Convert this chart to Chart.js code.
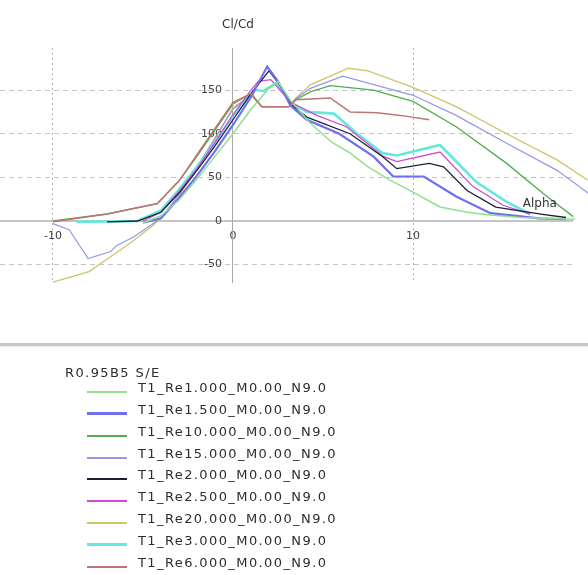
<!DOCTYPE html>
<html>
<head>
<meta charset="utf-8">
<script src="https://cdn.jsdelivr.net/npm/chart.js@4.4.1/dist/chart.umd.min.js"></script>
<style>
  html, body { margin: 0; padding: 0; background: #ffffff; }
  #wrap { position: relative; width: 588px; height: 575px; overflow: hidden; background: #ffffff; }
  #plot { position: absolute; left: 0; top: 0; }
  #sep { position: absolute; left: 0; top: 343px; width: 588px; height: 3px; background: #c6c6c6; box-shadow: 0 1px 2px #e6e6e6; }
  #legend { position: absolute; left: 0; top: 0; width: 588px; height: 575px;
            font-family: "DejaVu Sans", sans-serif; font-size: 13px; letter-spacing: 1.4px; color: #2c2c2c; }
  .lg-text { position: absolute; height: 16px; line-height: 16px; white-space: nowrap; }
  .lg-swatch { position: absolute; width: 40px; }
</style>
</head>
<body>
<div id="wrap">
  <canvas id="plot" width="588" height="345"></canvas>
  <div id="sep"></div>
  <div id="legend"></div>
</div>
<script>
// Polar family name and axis titles
const polarTitle = "R0.95B5 S/E";
const xTitle = "Alpha";
const yTitle = "Cl/Cd";

// Tick values shown on each axis
const xTickValues = [-10, 0, 10];
const yTickValues = [-50, 0, 50, 100, 150];

// Polar names, in legend order
const seriesNames = [
  "T1_Re1.000_M0.00_N9.0",
  "T1_Re1.500_M0.00_N9.0",
  "T1_Re10.000_M0.00_N9.0",
  "T1_Re15.000_M0.00_N9.0",
  "T1_Re2.000_M0.00_N9.0",
  "T1_Re2.500_M0.00_N9.0",
  "T1_Re20.000_M0.00_N9.0",
  "T1_Re3.000_M0.00_N9.0",
  "T1_Re6.000_M0.00_N9.0"
];

// Angle of attack (deg) and Cl/Cd for each polar
const alphaRe1 = [-5, -4, -3, -2, -1, 0, 1, 2, 2.5, 3.2, 4.3, 5.5, 6.5, 7.5, 8.7, 10, 11.5, 13, 14.3, 16, 19];
const clcdRe1  = [-2, 6, 24, 48, 74, 100, 128, 152, 160, 138, 112, 90, 78, 62, 47, 33, 16, 10, 7, 4, 2];

const alphaRe1_5 = [-5, -4, -3, -2, -1, 0, 1, 1.9, 2.5, 3.2, 4.1, 5.9, 7.8, 8.9, 10.6, 12.4, 14.3, 17, 18.5];
const clcdRe1_5  = [-2, 3, 26, 52, 80, 110, 142, 177, 160, 132, 116, 100, 74, 51, 51, 28, 9, 3, 2];

const alphaRe10 = [-10, -7, -4.2, -3, -2, -1, 0, 1, 1.6, 3.1, 3.5, 4.3, 5.4, 7.8, 10, 12.4, 15.2, 17.2, 18.9, 19.7];
const clcdRe10  = [0, 8, 20, 46, 74, 104, 134, 146, 131, 131, 139, 148, 155, 150, 137, 108, 66, 32, 5, 3];

const alphaRe15 = [-10, -9.1, -8.05, -6.8, -6.45, -5.5, -4.5, -4, -3, -2, -1, 0, 1, 1.6, 3.1, 3.5, 4.3, 6.1, 10, 12.4, 15.2, 18, 20];
const clcdRe15  = [-3, -10, -43, -35, -28, -18, -4, 4, 30, 62, 95, 128, 145, 131, 131, 140, 152, 166, 144, 121, 89, 58, 28];

const alphaRe2 = [-7, -5.3, -4, -3, -2, -1, 0, 1, 2.0, 2.6, 3.2, 4.1, 6.5, 8.3, 9.1, 10.9, 11.7, 13, 14.6, 16.1, 17.4, 18.5];
const clcdRe2  = [-1, 0, 10, 32, 58, 86, 116, 146, 172, 156, 134, 119, 100, 74, 60, 66, 62, 35, 16, 11, 7, 4];

const alphaRe2_5 = [-5, -4, -3, -2, -1, 0, 1, 1.4, 2.1, 3.2, 4.65, 6.3, 8.35, 9.1, 11.5, 13.3, 15, 16.5];
const clcdRe2_5  = [0, 10, 34, 60, 90, 122, 150, 160, 162, 136, 121, 108, 74, 68, 79, 40, 18, 8];

const alphaRe20 = [-10, -8, -6.8, -5.5, -4.5, -4, -3, -2, -1, 0, 1, 1.6, 3.1, 3.5, 4.3, 6.4, 7.5, 10, 12.4, 15.2, 18, 19.7, 21];
const clcdRe20  = [-70, -58, -41, -22, -6, 3, 28, 60, 94, 130, 144, 131, 131, 141, 156, 175, 172, 153, 131, 100, 70, 47, 25];

const alphaRe3 = [-8.7, -5.3, -4, -3, -2, -1, 0, 1.2, 1.7, 2.4, 3.2, 4.1, 5.6, 6.9, 8.3, 9.1, 11.5, 13.5, 15.2, 16.5];
const clcdRe3  = [-1, 0, 12, 36, 62, 90, 120, 150, 149, 158, 136, 125, 123, 100, 78, 75, 87, 45, 22, 8];

const alphaRe6 = [-10, -7, -4.2, -3, -2, -1, 0, 1, 1.6, 3.1, 3.5, 5.4, 6.5, 8, 9.3, 10.9];
const clcdRe6  = [-1, 8, 20, 46, 76, 106, 136, 146, 131, 131, 139, 141, 125, 124, 121, 116];

const seriesAlpha = [alphaRe1, alphaRe1_5, alphaRe10, alphaRe15, alphaRe2, alphaRe2_5, alphaRe20, alphaRe3, alphaRe6];
const seriesClCd  = [clcdRe1, clcdRe1_5, clcdRe10, clcdRe15, clcdRe2, clcdRe2_5, clcdRe20, clcdRe3, clcdRe6];

// Curve styles (lower draw order sits on top)
const seriesColors = ["#8fe08f", "#6f6ff2", "#4fae4f", "#9a96e6", "#1e1e3a", "#d04ad0", "#cfc46a", "#66e6de", "#c07474"];
const seriesWidths = [1.5, 2.2, 1.3, 1.2, 1.3, 1.3, 1.3, 2.6, 1.5];
const seriesOrder  = [0, 0, 1, 1, 0, 0, 1, 0, -1];
const swatchHeights = [2, 3, 2, 2, 2, 2, 2, 3, 2];

const datasets = seriesNames.map((name, i) => ({
  label: name,
  data: seriesAlpha[i].map((a, k) => ({ x: a, y: seriesClCd[i][k] })),
  borderColor: seriesColors[i],
  backgroundColor: seriesColors[i],
  borderWidth: seriesWidths[i],
  order: seriesOrder[i],
  pointRadius: 0,
  tension: 0,
  fill: false,
  clip: false
}));

// Axis titles placed next to the axes that cross at the origin
const axisTitles = {
  id: 'axisTitles',
  afterDraw(chart) {
    const { ctx, chartArea, scales: { x, y } } = chart;
    ctx.save();
    ctx.font = '12px "DejaVu Sans"';
    ctx.fillStyle = '#333333';
    ctx.textBaseline = 'middle';
    ctx.textAlign = 'center';
    ctx.fillText(yTitle, x.getPixelForValue(0) + 5, chartArea.top - 23);
    ctx.textAlign = 'left';
    ctx.fillText(xTitle, x.getPixelForValue(16.1), y.getPixelForValue(0) - 17);
    ctx.restore();
  }
};

const tickFont = { family: 'DejaVu Sans', size: 11 };

new Chart(document.getElementById('plot'), {
  type: 'line',
  data: { datasets },
  options: {
    responsive: false,
    animation: false,
    devicePixelRatio: 1,
    layout: { padding: { left: 0, right: 16, top: 48, bottom: 63 } },
    plugins: { legend: { display: false }, tooltip: { enabled: false } },
    scales: {
      x: {
        type: 'linear',
        position: { y: 0 },
        min: -12.944,
        max: 18.833,
        afterBuildTicks: (scale) => { scale.ticks = xTickValues.map(v => ({ value: v })); },
        ticks: { font: tickFont, color: '#404040', padding: 3, callback: (v) => String(v) },
        grid: {
          color: (c) => (c.tick && c.tick.value === 0) ? 'rgba(0,0,0,0)' : '#b4b4b4',
          lineWidth: 1,
          tickLength: 6,
          tickColor: 'rgba(0,0,0,0)'
        },
        border: { display: true, color: '#c4c4c4', width: 2, dash: [2, 3] }
      },
      y: {
        type: 'linear',
        position: { x: 0 },
        min: -69.9,
        max: 198.2,
        afterBuildTicks: (scale) => { scale.ticks = yTickValues.map(v => ({ value: v })); },
        ticks: { font: tickFont, color: '#404040', callback: (v) => String(v) + '\u2002\u2002' },
        grid: {
          color: (c) => (c.tick && c.tick.value === 0) ? 'rgba(0,0,0,0)' : '#c4c4c4',
          lineWidth: 1,
          tickLength: 6,
          tickColor: 'rgba(0,0,0,0)'
        },
        border: { display: true, color: '#a8a8a8', width: 1, dash: [5, 4] }
      }
    }
  },
  plugins: [axisTitles]
});

// Legend built from the chart's series names and styles
const legend = document.getElementById('legend');
const title = document.createElement('div');
title.className = 'lg-text';
title.style.left = '65px';
title.style.top = (373 - 8) + 'px';
title.textContent = polarTitle;
legend.appendChild(title);
seriesNames.forEach((name, i) => {
  const cy = 388 + i * 21.85;
  const sw = document.createElement('div');
  sw.className = 'lg-swatch';
  sw.style.left = '87px';
  sw.style.top = Math.round(cy + 4 - swatchHeights[i] / 2) + 'px';
  sw.style.height = swatchHeights[i] + 'px';
  sw.style.background = seriesColors[i];
  legend.appendChild(sw);
  const tx = document.createElement('div');
  tx.className = 'lg-text';
  tx.style.left = '138px';
  tx.style.top = (cy - 8) + 'px';
  tx.textContent = name;
  legend.appendChild(tx);
});
</script>
</body>
</html>
